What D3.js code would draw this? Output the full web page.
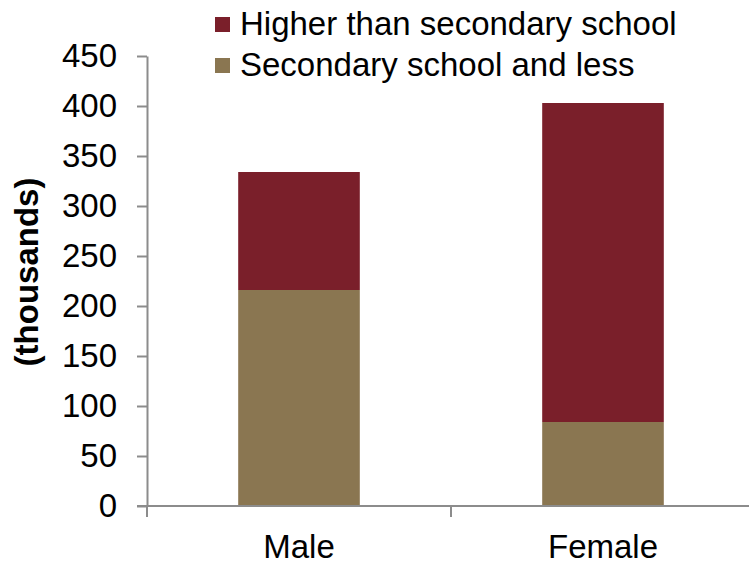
<!DOCTYPE html>
<html>
<head>
<meta charset="utf-8">
<script src="https://cdn.jsdelivr.net/npm/d3@7"></script>
<style>
  body { margin: 0; background: #fff; }
  svg text { font-family: "Liberation Sans", Arial, sans-serif; fill: #000; }
</style>
</head>
<body>
<svg id="chart"></svg>
<script>
// categories and series values (thousands)
const categories = ["Male", "Female"];
const seriesNames = ["Secondary school and less", "Higher than secondary school"];
const secondaryLess = [216, 84];
const higherThanSecondary = [118, 319];
const yTicks = [0, 50, 100, 150, 200, 250, 300, 350, 400, 450];

const colors = {
  "Secondary school and less": "#8a7651",
  "Higher than secondary school": "#7a1f2a"
};

const width = 749, height = 566;
const margin = { top: 56, left: 147 };

const svg = d3.select("#chart")
  .attr("width", width)
  .attr("height", height);

const chart = svg.append("g")
  .attr("transform", `translate(${margin.left},${margin.top})`);

const innerW = 608;   // last category boundary falls just past the right edge
const innerH = 450;

const x = d3.scaleBand().domain(categories).range([0, innerW]).padding(0);
const y = d3.scaleLinear().domain([0, 450]).range([innerH, 0]);

// stack data
const table = categories.map((c, i) => ({
  category: c,
  "Secondary school and less": secondaryLess[i],
  "Higher than secondary school": higherThanSecondary[i]
}));
const stacked = d3.stack().keys(seriesNames)(table);

const barW = x.bandwidth() * 0.4;

chart.selectAll(".series")
  .data(stacked)
  .join("g")
  .attr("class", "series")
  .attr("fill", d => colors[d.key])
  .selectAll("rect")
  .data(d => d)
  .join("rect")
  .attr("x", d => x(d.data.category) + (x.bandwidth() - barW) / 2)
  .attr("width", barW)
  .attr("y", d => y(d[1]))
  .attr("height", d => y(d[0]) - y(d[1]));

// y axis
const yAxis = chart.append("g")
  .call(d3.axisLeft(y).tickValues(yTicks).tickSize(10).tickSizeOuter(0));
yAxis.select(".domain").attr("stroke", "#8c8c8c").attr("stroke-width", 2);
yAxis.selectAll(".tick line").attr("stroke", "#8c8c8c").attr("stroke-width", 2);
yAxis.selectAll(".tick text")
  .attr("x", -30)
  .style("font-size", "33px")
  .attr("fill", "#000");

// x axis: tick marks at band boundaries, labels at band centres
const xAxisG = chart.append("g").attr("transform", `translate(0,${innerH})`);
xAxisG.append("line")
  .attr("x1", -10).attr("x2", innerW)
  .attr("stroke", "#8c8c8c").attr("stroke-width", 2);
const boundaries = categories.map(c => x(c)).concat([innerW]);
xAxisG.selectAll(".xtick")
  .data(boundaries)
  .join("line")
  .attr("class", "xtick")
  .attr("x1", d => d).attr("x2", d => d)
  .attr("y1", 0).attr("y2", 11)
  .attr("stroke", "#8c8c8c").attr("stroke-width", 2);
xAxisG.selectAll(".xlabel")
  .data(categories)
  .join("text")
  .attr("class", "xlabel")
  .attr("x", d => x(d) + x.bandwidth() / 2)
  .attr("y", 52)
  .attr("text-anchor", "middle")
  .style("font-size", "33px")
  .text(d => d);

// y title
svg.append("text")
  .attr("transform", `translate(38,272) rotate(-90)`)
  .attr("text-anchor", "middle")
  .style("font-size", "33px")
  .style("font-weight", "bold")
  .text("(thousands)");

// legend (higher first)
const legendItems = seriesNames.slice().reverse();
const legend = svg.append("g").attr("transform", "translate(215,10)");
const li = legend.selectAll("g")
  .data(legendItems)
  .join("g")
  .attr("transform", (d, i) => `translate(0,${i * 41})`);
li.append("rect")
  .attr("width", 15).attr("height", 15)
  .attr("y", 7)
  .attr("fill", d => colors[d]);
li.append("text")
  .attr("x", 25)
  .attr("y", 25)
  .style("font-size", "33px")
  .text(d => d);
</script>
</body>
</html>
